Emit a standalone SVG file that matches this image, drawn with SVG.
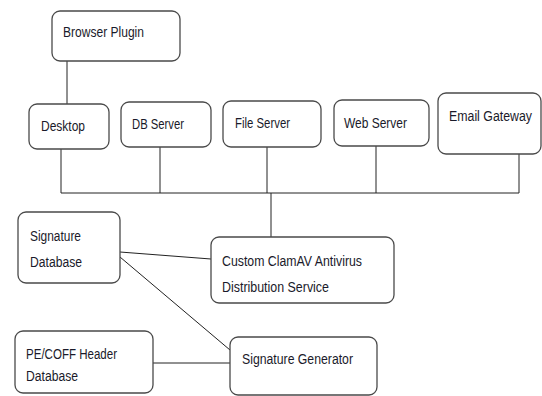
<svg xmlns="http://www.w3.org/2000/svg" width="542" height="396" viewBox="0 0 542 396">
<style>
.box{fill:#fff;stroke:#4a4a4a;stroke-width:1.3}
.t{font-family:"Liberation Sans",Arial,sans-serif;font-size:14px;fill:#1a1a2a}
.c{stroke:#222;stroke-width:1;fill:none}
</style>
<rect width="542" height="396" fill="#fff"/>
<g id="connectors">
<line class="c" x1="67" y1="61" x2="67" y2="104"/>
<polyline class="c" points="61,149 61,193 519,193 519,148"/>
<line class="c" x1="160" y1="147" x2="160" y2="193"/>
<line class="c" x1="267" y1="147" x2="267" y2="193"/>
<line class="c" x1="376" y1="146" x2="376" y2="193"/>
<line class="c" x1="271" y1="193" x2="271" y2="237"/>
<line class="c" x1="120" y1="252" x2="211" y2="259"/>
<line class="c" x1="120" y1="257" x2="230" y2="350"/>
<line class="c" x1="153" y1="363" x2="230" y2="363"/>
</g>
<g id="browser-plugin"><rect class="box" x="52" y="11" width="128" height="50" rx="8"/><text class="t" x="63" y="37" textLength="81" lengthAdjust="spacingAndGlyphs">Browser Plugin</text></g>
<g id="desktop"><rect class="box" x="29" y="104" width="80" height="45" rx="8"/><text class="t" x="41" y="131" textLength="44" lengthAdjust="spacingAndGlyphs">Desktop</text></g>
<g id="db-server"><rect class="box" x="121" y="102" width="90" height="45" rx="8"/><text class="t" x="132" y="129" textLength="52" lengthAdjust="spacingAndGlyphs">DB Server</text></g>
<g id="file-server"><rect class="box" x="223" y="101" width="98" height="46" rx="8"/><text class="t" x="235" y="128" textLength="55" lengthAdjust="spacingAndGlyphs">File Server</text></g>
<g id="web-server"><rect class="box" x="334" y="100" width="95" height="46" rx="8"/><text class="t" x="344" y="128" textLength="63" lengthAdjust="spacingAndGlyphs">Web Server</text></g>
<g id="email-gateway"><rect class="box" x="438" y="93" width="103" height="61" rx="8"/><text class="t" x="449" y="121" textLength="83" lengthAdjust="spacingAndGlyphs">Email Gateway</text></g>
<g id="signature-database"><rect class="box" x="18" y="212" width="102" height="71" rx="8"/><text class="t" x="30" y="241" textLength="51" lengthAdjust="spacingAndGlyphs">Signature</text><text class="t" x="30" y="267" textLength="52" lengthAdjust="spacingAndGlyphs">Database</text></g>
<g id="clamav-service"><rect class="box" x="211" y="237" width="183" height="66" rx="8"/><text class="t" x="222" y="266" textLength="140" lengthAdjust="spacingAndGlyphs">Custom ClamAV Antivirus</text><text class="t" x="222" y="292" textLength="107" lengthAdjust="spacingAndGlyphs">Distribution Service</text></g>
<g id="pe-coff-database"><rect class="box" x="15" y="331" width="138" height="62" rx="8"/><text class="t" x="26" y="359" textLength="91" lengthAdjust="spacingAndGlyphs">PE/COFF Header</text><text class="t" x="26" y="381" textLength="52" lengthAdjust="spacingAndGlyphs">Database</text></g>
<g id="signature-generator"><rect class="box" x="230" y="337" width="147" height="58" rx="8"/><text class="t" x="242" y="364" textLength="111" lengthAdjust="spacingAndGlyphs">Signature Generator</text></g>
</svg>
